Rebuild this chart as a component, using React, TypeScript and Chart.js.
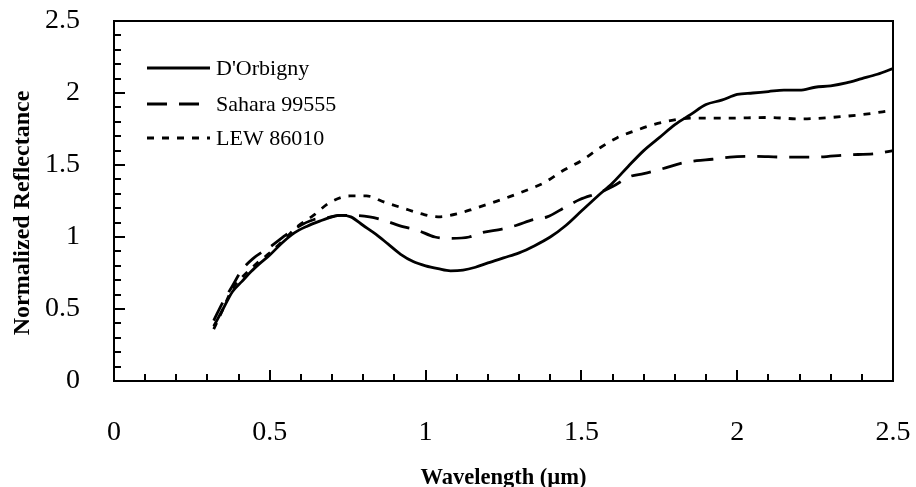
import { useEffect, useRef } from "react";
import { Chart, registerables } from "chart.js";

Chart.register(...registerables);

// ---- Data (wavelength in µm, normalized reflectance) ----
const dorbignyX = [0.32, 0.35, 0.38, 0.41, 0.44, 0.47, 0.5, 0.54, 0.58, 0.62, 0.66, 0.7, 0.73, 0.76, 0.8, 0.84, 0.88, 0.92, 0.96, 1.0, 1.04, 1.08, 1.12, 1.16, 1.2, 1.25, 1.3, 1.35, 1.4, 1.45, 1.5, 1.55, 1.6, 1.65, 1.7, 1.75, 1.8, 1.85, 1.9, 1.95, 2.0, 2.05, 2.1, 2.15, 2.2, 2.25, 2.3, 2.35, 2.4, 2.45, 2.5];
const dorbignyY = [0.38, 0.5, 0.62, 0.69, 0.76, 0.82, 0.875, 0.96, 1.03, 1.075, 1.11, 1.14, 1.15, 1.14, 1.08, 1.02, 0.95, 0.88, 0.83, 0.8, 0.78, 0.765, 0.77, 0.79, 0.82, 0.855, 0.89, 0.94, 1.0, 1.08, 1.18, 1.28, 1.375, 1.49, 1.6, 1.69, 1.78, 1.85, 1.92, 1.95, 1.99, 2.0, 2.01, 2.02, 2.02, 2.04, 2.05, 2.07, 2.1, 2.13, 2.17];

const saharaX = [0.32, 0.35, 0.38, 0.41, 0.446, 0.5, 0.575, 0.64, 0.68, 0.72, 0.757, 0.82, 0.86, 0.93, 0.97, 1.03, 1.08, 1.14, 1.18, 1.245, 1.29, 1.345, 1.39, 1.45, 1.495, 1.56, 1.6, 1.656, 1.7, 1.77, 1.816, 1.87, 1.92, 1.977, 2.05, 2.15, 2.25, 2.35, 2.45, 2.5];
const saharaY = [0.42, 0.55, 0.66, 0.77, 0.85, 0.93, 1.05, 1.12, 1.13, 1.15, 1.15, 1.14, 1.12, 1.07, 1.05, 1.0, 0.99, 1.0, 1.03, 1.055, 1.08, 1.12, 1.14, 1.21, 1.26, 1.31, 1.35, 1.42, 1.44, 1.48, 1.51, 1.53, 1.54, 1.555, 1.56, 1.555, 1.555, 1.57, 1.58, 1.6];

const lewX = [0.32, 0.35, 0.38, 0.42, 0.46, 0.5, 0.55, 0.587, 0.64, 0.693, 0.757, 0.81, 0.87, 0.928, 0.988, 1.04, 1.1, 1.16, 1.216, 1.27, 1.33, 1.383, 1.44, 1.5, 1.56, 1.615, 1.675, 1.73, 1.79, 1.85, 1.97, 2.1, 2.2, 2.3, 2.4, 2.5];
const lewY = [0.36, 0.5, 0.64, 0.74, 0.82, 0.89, 0.99, 1.07, 1.15, 1.24, 1.285, 1.285, 1.24, 1.2, 1.16, 1.14, 1.16, 1.2, 1.24, 1.28, 1.33, 1.38, 1.46, 1.53, 1.62, 1.69, 1.74, 1.78, 1.81, 1.825, 1.825, 1.83, 1.82, 1.83, 1.85, 1.88];

const seriesLabels = ["D'Orbigny", "Sahara 99555", "LEW 86010"];
const seriesDashes: number[][] = [[], [20, 12], [7, 8]];

const axisMin = 0;
const axisMax = 2.5;
const majorStep = 0.5;
const minorStep = 0.1;

const xTitle = "Wavelength (µm)";
const yTitle = "Normalized Reflectance    ";

const toPoints = (xs: number[], ys: number[]) => xs.map((x, i) => ({ x, y: ys[i] }));

const framePlugin = {
  id: "frameTicksLegend",
  afterDraw(chart: any) {
    const ctx = chart.ctx;
    const { left, right, top, bottom } = chart.chartArea;
    const xs = chart.scales.x;
    const ys = chart.scales.y;
    ctx.save();
    ctx.strokeStyle = "#000";
    ctx.lineWidth = 2;
    ctx.setLineDash([]);
    ctx.strokeRect(left, top, right - left, bottom - top);
    const n = Math.round((axisMax - axisMin) / minorStep);
    const ratio = Math.round(majorStep / minorStep);
    ctx.beginPath();
    for (let i = 0; i <= n; i++) {
      const v = axisMin + i * minorStep;
      const len = i % ratio === 0 ? 11 : 7;
      const px = Math.round(xs.getPixelForValue(v));
      ctx.moveTo(px, bottom);
      ctx.lineTo(px, bottom - len);
      const py = Math.round(ys.getPixelForValue(v));
      ctx.moveTo(left, py);
      ctx.lineTo(left + len, py);
    }
    ctx.stroke();

    // legend inside plot
    ctx.font = "22px 'Liberation Serif'";
    ctx.fillStyle = "#000";
    ctx.textBaseline = "middle";
    ctx.textAlign = "left";
    const rowY = [top + 47, top + 83, top + 117];
    chart.data.datasets.forEach((ds: any, i: number) => {
      const y = rowY[i];
      ctx.beginPath();
      ctx.lineWidth = 2.8;
      ctx.setLineDash(ds.borderDash || []);
      ctx.moveTo(left + 33, y);
      ctx.lineTo(left + 96, y);
      ctx.stroke();
      ctx.setLineDash([]);
      ctx.fillText(ds.label, left + 102, y + 1);
    });
    ctx.restore();
  },
};

const zeroPadding = (s: any) => {
  s.paddingTop = 0;
  s.paddingBottom = 0;
  s.paddingLeft = 0;
  s.paddingRight = 0;
};

export default function App() {
  const ref = useRef<HTMLCanvasElement>(null);
  useEffect(() => {
    document.body.style.margin = "0";
    const canvas = ref.current;
    if (!canvas) return;
    const mk = (i: number, xs: number[], ys: number[]) => ({
      label: seriesLabels[i],
      data: toPoints(xs, ys),
      borderColor: "#000",
      backgroundColor: "#000",
      borderWidth: 2.8,
      borderDash: seriesDashes[i],
      pointRadius: 0,
      cubicInterpolationMode: "monotone",
      fill: false,
    });
    const chart = new Chart(canvas, {
      type: "line",
      data: {
        datasets: [mk(0, dorbignyX, dorbignyY), mk(1, saharaX, saharaY), mk(2, lewX, lewY)],
      },
      options: {
        animation: false,
        responsive: false,
        maintainAspectRatio: false,
        layout: { padding: { top: 21, right: 23, left: 0, bottom: 0 } },
        plugins: { legend: { display: false }, tooltip: { enabled: false } },
        scales: {
          x: {
            type: "linear",
            min: axisMin,
            max: axisMax,
            grid: { display: false, drawTicks: false },
            border: { display: false },
            ticks: {
              stepSize: majorStep,
              color: "#000",
              padding: 35,
              maxRotation: 0,
              font: { family: "'Liberation Serif'", size: 28 },
              callback: (v: any) => String(v),
            },
            title: {
              display: true,
              text: xTitle,
              color: "#000",
              font: { family: "'Liberation Serif'", size: 22.5, weight: "bold", lineHeight: 1 },
              padding: { top: 0, bottom: -2 },
            },
            afterFit: (s: any) => {
              s.height = 106;
              zeroPadding(s);
            },
          },
          y: {
            type: "linear",
            min: axisMin,
            max: axisMax,
            grid: { display: false, drawTicks: false },
            border: { display: false },
            ticks: {
              stepSize: majorStep,
              color: "#000",
              padding: 34,
              font: { family: "'Liberation Serif'", size: 28 },
              callback: (v: any) => String(v),
            },
            title: {
              display: true,
              text: yTitle,
              color: "#000",
              font: { family: "'Liberation Serif'", size: 24, weight: "bold", lineHeight: 1.2 },
              padding: { top: 8, bottom: 0 },
            },
            afterFit: (s: any) => {
              s.width = 114;
              zeroPadding(s);
            },
          },
        },
      },
      plugins: [framePlugin],
    });
    return () => chart.destroy();
  }, []);
  return <canvas ref={ref} width={916} height={487} style={{ display: "block", width: 916, height: 487 }} />;
}
